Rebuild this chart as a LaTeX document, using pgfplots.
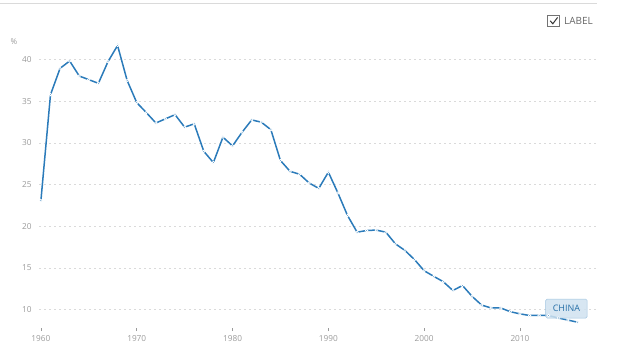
\documentclass[border=0pt]{standalone}
\usepackage{fontspec}
\setmainfont{Open Sans}
\usepackage{pgfplots}
\pgfplotsset{compat=1.18}
\definecolor{wbblue}{HTML}{2B7BBA}
\definecolor{tickgray}{HTML}{9A9A9A}
\definecolor{gridgray}{HTML}{DADADA}
\begin{document}
\begin{tikzpicture}
\path[use as bounding box] (0bp,0bp) rectangle (630bp,354bp);
\draw[gridgray, line width=0.6bp] (0bp,351bp) -- (597bp,351bp);
\node[anchor=west, text=tickgray, font=\fontsize{8}{9}\selectfont, inner sep=0] at (10.5bp,312bp) {\%};
\draw[gray!90!black, line width=0.9bp, fill=white] (547.8bp,327.6bp) rectangle (559.6bp,338.2bp);
\draw[black!80, line width=1bp] (550.2bp,333.2bp) -- (552.8bp,330.2bp) -- (557.6bp,336.6bp);
\node[anchor=west, text=black!60, font=\fontsize{10}{12}\selectfont, inner sep=0] at (564bp,333bp) {LABEL};
\begin{axis}[
  at={(39bp,26bp)}, anchor=south west,
  scale only axis, width=558bp, height=285bp,
  xmin=1959.8, xmax=2018.04,
  ymin=7.8, ymax=42,
  axis line style={draw=none},
  xtick={1960,1970,1980,1990,2000,2010},
  ytick={10,15,20,25,30,35,40},
  xticklabels={1960,1970,1980,1990,2000,2010},
  yticklabels={10,15,20,25,30,35,40},
  xtick pos=bottom, ytick pos=left,
  tick align=outside,
  major tick length=3bp,
  ytick style={draw=none},
  xtick style={tickgray, line width=0.6bp},
  ymajorgrids,
  grid style={gridgray, dash pattern=on 2bp off 3bp, line width=0.8bp},
  ticklabel style={text=tickgray, font=\fontsize{8.3}{10}\selectfont},
  xticklabel style={yshift=-0.5bp},
  yticklabel style={xshift=-1bp},
  /pgf/number format/assume math mode=true,
  clip=false,
]
\addplot[wbblue, line width=1.5bp, mark=*, mark size=1.25bp,
  mark options={fill=wbblue, draw=white, line width=0.7bp}]
coordinates {
(1960,23.1)(1961,35.8)(1962,38.96)(1963,39.84)(1964,38.04)(1965,37.6)
(1966,37.16)(1967,39.76)(1968,41.7)(1969,37.5)(1970,34.85)(1971,33.65)
(1972,32.4)(1973,32.9)(1974,33.4)(1975,31.9)(1976,32.3)(1977,29.0)
(1978,27.65)(1979,30.7)(1980,29.65)(1981,31.3)(1982,32.77)(1983,32.5)
(1984,31.6)(1985,27.9)(1986,26.6)(1987,26.25)(1988,25.2)(1989,24.55)
(1990,26.5)(1991,24.0)(1992,21.3)(1993,19.3)(1994,19.5)(1995,19.55)
(1996,19.3)(1997,17.9)(1998,17.1)(1999,16.0)(2000,14.67)(2001,14.0)
(2002,13.35)(2003,12.3)(2004,12.9)(2005,11.6)(2006,10.55)(2007,10.2)
(2008,10.2)(2009,9.75)(2010,9.5)(2011,9.3)(2012,9.3)(2013,9.3)
(2014,9.0)(2015,8.75)(2016,8.5)
};
\node[draw=wbblue!45, fill=wbblue!22, fill opacity=0.85, text opacity=1, rounded corners=1.5bp,
  text=wbblue!90!black, font=\fontsize{9}{10}\selectfont,
  minimum width=41.5bp, minimum height=19bp, inner sep=1bp]
  at (axis cs:2014.85,10.13) {CHINA};
\end{axis}
\end{tikzpicture}
\end{document}
